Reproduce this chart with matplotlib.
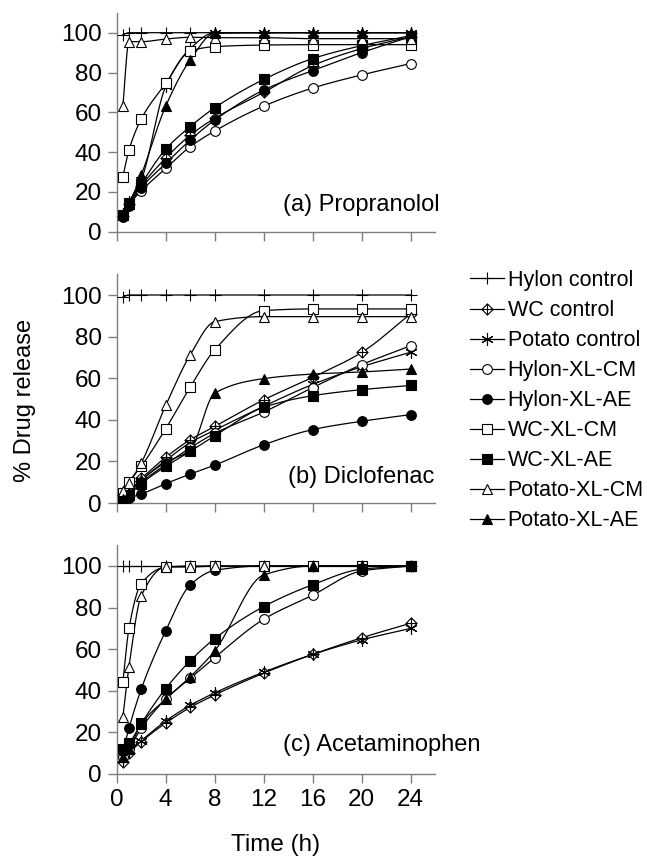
import numpy as np
import matplotlib
matplotlib.use("Agg")
import matplotlib.pyplot as plt
from matplotlib.path import Path
from matplotlib.lines import Line2D

plt.rcParams['font.family'] = ['Liberation Sans', 'DejaVu Sans']

hours = [0.5, 1, 2, 4, 6, 8, 12, 16, 20, 24]
names = ['Hylon control', 'WC control', 'Potato control', 'Hylon-XL-CM', 'Hylon-XL-AE',
         'WC-XL-CM', 'WC-XL-AE', 'Potato-XL-CM', 'Potato-XL-AE']
panel_titles = ['(a) Propranolol', '(b) Diclofenac', '(c) Acetaminophen']

# (a) Propranolol
a_hylon_control = [99, 100, 100, 100, 100, 100, 100, 100, 100, 100]
a_wc_control = [8, 14, 23, 37, 48.5, 57, 70, 83.5, 92, 98]
a_potato_control = [9, 15, 26, 73, 92, 100, 100, 100, 100, 100]
a_hylon_cm = [8, 13.5, 20.5, 31.8, 42.7, 50.6, 63.1, 72.2, 78.8, 84.5]
a_hylon_ae = [7.5, 13, 22, 34.3, 46, 56.1, 71.2, 81, 90, 98]
a_wc_cm = [27.5, 41, 56.6, 74.5, 90.8, 93, 93.8, 94, 94, 94]
a_wc_ae = [8.5, 14.5, 24, 41.5, 52.8, 62.3, 76.5, 87, 93.5, 98.5]
a_potato_cm = [63, 95.5, 95.5, 96.8, 97.7, 97.5, 97.5, 97, 97, 97]
a_potato_ae = [8.5, 14, 28.5, 63.1, 86.3, 99.7, 100, 100, 100, 100]

# (b) Diclofenac
b_hylon_control = [99, 100, 100, 100, 100, 100, 100, 100, 100, 100]
b_wc_control = [4, 8, 12, 22, 30.4, 36.8, 49.6, 60.4, 72.4, 91]
b_potato_control = [3, 6, 11, 20.5, 29, 35, 46.5, 57, 65.5, 72.5]
b_hylon_cm = [2, 5, 10, 18.5, 26.5, 33.5, 43.7, 55.5, 66.5, 75.6]
b_hylon_ae = [1.5, 2.4, 4.3, 9.3, 13.9, 18.2, 28, 35.3, 39.3, 42.5]
b_wc_cm = [4.8, 10, 17.6, 35.7, 55.7, 73.6, 92.5, 93.3, 93.3, 93.3]
b_wc_ae = [2, 4, 9.3, 17.6, 24.8, 32.3, 46, 51.6, 54.5, 56.5]
b_potato_cm = [5.6, 9.6, 19.2, 46.9, 71.2, 87.2, 89.6, 89.6, 89.6, 89.6]
b_potato_ae = [2, 5, 11, 19.5, 25.6, 52.8, 59.8, 62, 63, 64.4]

# (c) Acetaminophen
c_hylon_control = [100, 100, 100, 100, 100, 100, 100, 100, 100, 100]
c_wc_control = [6, 10, 15.5, 24.5, 32, 38, 48.5, 57.5, 65.5, 72.5]
c_potato_control = [7, 11, 16, 25.5, 33, 39, 49, 57.5, 64.5, 70]
c_hylon_cm = [8, 12, 22, 36, 46, 56, 74.4, 86, 97.6, 100]
c_hylon_ae = [11.2, 22, 40.8, 68.8, 90.9, 97.9, 100, 100, 100, 100]
c_wc_cm = [44, 70, 91.5, 99.5, 100, 100, 100, 100, 100, 100]
c_wc_ae = [12, 14.7, 24.3, 41.1, 54.4, 65.1, 80.5, 91, 98.5, 100]
c_potato_cm = [27.2, 51.5, 85.6, 99.5, 99.5, 100, 100, 100, 100, 100]
c_potato_ae = [8, 12, 24, 36, 46.7, 59.2, 95.7, 100, 100, 100]

panels = [
    [a_hylon_control, a_wc_control, a_potato_control, a_hylon_cm, a_hylon_ae,
     a_wc_cm, a_wc_ae, a_potato_cm, a_potato_ae],
    [b_hylon_control, b_wc_control, b_potato_control, b_hylon_cm, b_hylon_ae,
     b_wc_cm, b_wc_ae, b_potato_cm, b_potato_ae],
    [c_hylon_control, c_wc_control, c_potato_control, c_hylon_cm, c_hylon_ae,
     c_wc_cm, c_wc_ae, c_potato_cm, c_potato_ae],
]


def smooth(x, y, n=30):
    # monotone cubic (pchip) so the curves bend without overshooting
    x = np.asarray(x, float)
    y = np.asarray(y, float)
    h = np.diff(x)
    d = np.diff(y) / h
    m = np.zeros_like(y)
    m[0], m[-1] = d[0], d[-1]
    for k in range(1, len(x) - 1):
        if d[k - 1] * d[k] > 0:
            w1 = 2 * h[k] + h[k - 1]
            w2 = h[k] + 2 * h[k - 1]
            m[k] = (w1 + w2) / (w1 / d[k - 1] + w2 / d[k])
    xs, ys = [], []
    for k in range(len(h)):
        t = np.linspace(0, 1, n)
        h00 = 2 * t**3 - 3 * t**2 + 1
        h10 = t**3 - 2 * t**2 + t
        h01 = -2 * t**3 + 3 * t**2
        h11 = t**3 - t**2
        xs.append(x[k] + t * h[k])
        ys.append(h00 * y[k] + h10 * h[k] * m[k] + h01 * y[k + 1] + h11 * h[k] * m[k + 1])
    return np.concatenate(xs), np.concatenate(ys)


diamond_plus = Path(
    [(0, 1), (1, 0), (0, -1), (-1, 0), (0, 1), (0, 1), (0, -1), (-1, 0), (1, 0)],
    [Path.MOVETO, Path.LINETO, Path.LINETO, Path.LINETO, Path.CLOSEPOLY,
     Path.MOVETO, Path.LINETO, Path.MOVETO, Path.LINETO])

styles = [('+', 'k', 8), (diamond_plus, 'w', 8), ((6, 2, 0), 'k', 9),
          ('o', 'w', 7), ('o', 'k', 7), ('s', 'w', 6.5), ('s', 'k', 6.5),
          ('^', 'w', 7.5), ('^', 'k', 7.5)]

fig = plt.figure(figsize=(6.47, 8.57), dpi=100)
W, H = 647.0, 857.0
# bottom (px of y=0) and px per unit for each panel
boxes = [(231.7, 1.99), (503.0, 2.08), (774.0, 2.08)]
label_pos = [(13.6, 13.5), (14.0, 12.5), (13.6, 14.0)]
grey = '#7f7f7f'

for i, (y0, ppu) in enumerate(boxes):
    hgt = 110 * ppu
    ax = fig.add_axes([116.7 / W, 1 - y0 / H, 318.5 / W, hgt / H])
    for vals, (mk, fc, ms) in zip(panels[i], styles):
        xs, ys = smooth(hours, vals)
        ax.plot(xs, ys, color='k', lw=0.9, zorder=2)
        ax.plot(hours, vals, linestyle='none', marker=mk, mfc=fc, mec='k',
                ms=ms, mew=0.8, zorder=3)
    ax.set_xlim(0, 26)
    ax.set_ylim(0, 110)
    ax.set_xticks(range(0, 25, 4))
    ax.set_yticks(range(0, 101, 20))
    for s in ['top', 'right']:
        ax.spines[s].set_visible(False)
    for s in ['left', 'bottom']:
        ax.spines[s].set_color(grey)
        ax.spines[s].set_linewidth(1.0)
    ax.tick_params(direction='out', length=6.5, width=1.0, color=grey,
                   labelsize=17.5, pad=4)
    if i < 2:
        ax.tick_params(axis='x', labelbottom=False)
    tx, ty = label_pos[i]
    ax.text(tx, ty, panel_titles[i], fontsize=17, va='center', ha='left',
            clip_on=False)

handles = [Line2D([], [], color='k', lw=0.9, marker=mk, mfc=fc, mec='k', ms=ms, mew=0.8)
           for mk, fc, ms in styles]
fig.legend(handles, names, loc='upper left', bbox_to_anchor=(470 / W, 1 - 270 / H),
           frameon=False, fontsize=15.5, handlelength=1.6, handletextpad=0.15,
           labelspacing=0.42, borderpad=0, borderaxespad=0, numpoints=1)

fig.text(25 / W, 1 - 400 / H, '% Drug release', rotation=90, fontsize=17,
         ha='center', va='center')
fig.text(276 / W, 1 - 845 / H, 'Time (h)', fontsize=17.5, ha='center', va='center')

fig.savefig('out.png', dpi=100)
